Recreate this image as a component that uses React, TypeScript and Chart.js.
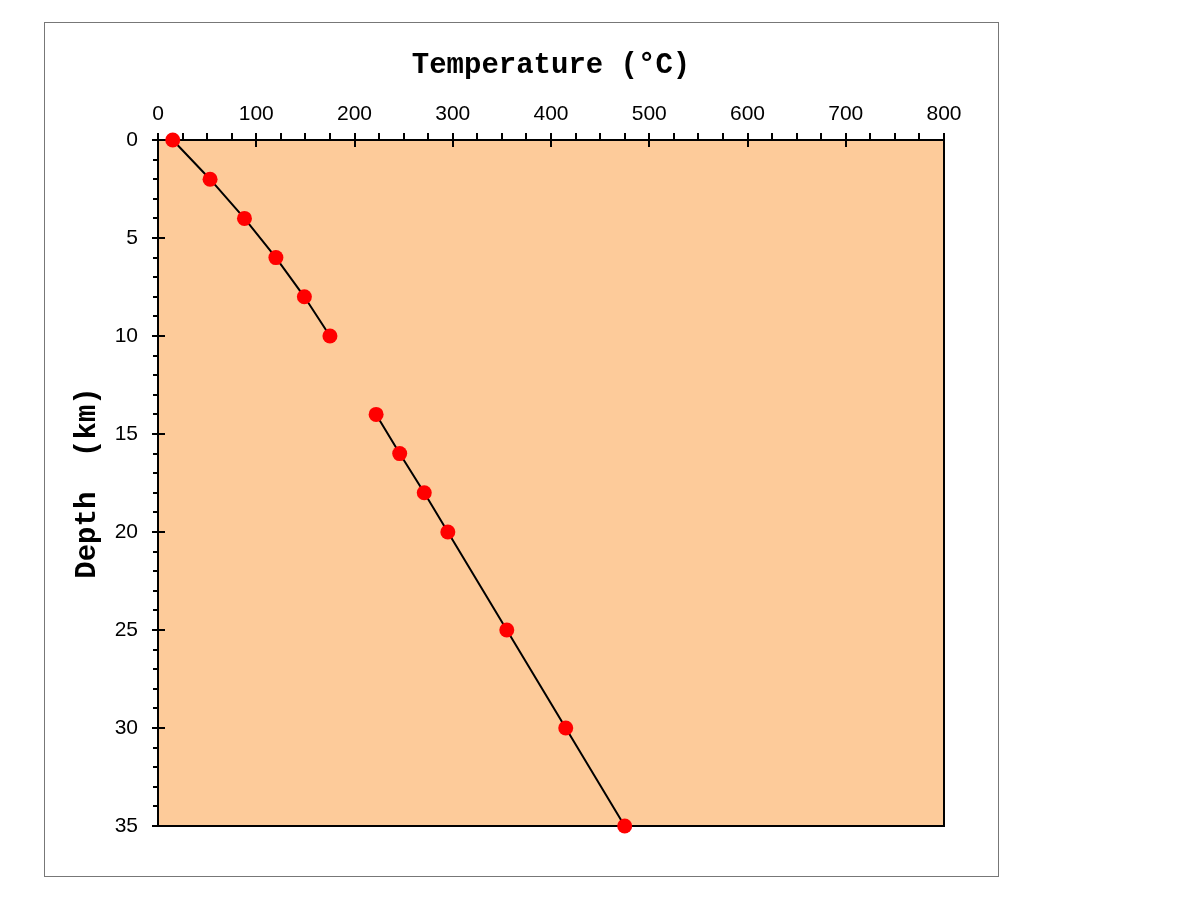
import React, { useEffect, useRef } from "react";
import { Chart, registerables } from "chart.js";

Chart.register(...registerables);

// Upper profile segment
const shallowDepths = [0, 2, 4, 6, 8, 10];
const shallowTemps = [15, 53, 88, 120, 149, 175];
// Lower profile segment
const deepDepths = [14, 16, 18, 20, 25, 30, 35];
const deepTemps = [222, 246, 271, 295, 355, 415, 475];

const tempTicks = [0, 100, 200, 300, 400, 500, 600, 700, 800];
const depthTicks = [0, 5, 10, 15, 20, 25, 30, 35];

const xTitle = "Temperature (°C)";
const yTitle = "Depth  (km)";

const PEACH = "#FDCB9A";
const MONO = "'Liberation Mono', 'Courier New', monospace";
const SANS = "'Liberation Sans', Arial, Helvetica, sans-serif";

const framePlugin = {
  id: "frameAndTicks",
  beforeDatasetsDraw(chart: any) {
    const { ctx, chartArea, scales } = chart;
    const { left, top, right, bottom } = chartArea;
    ctx.save();
    ctx.fillStyle = PEACH;
    ctx.fillRect(left, top, right - left, bottom - top);
    ctx.strokeStyle = "#000";
    ctx.lineWidth = 2;
    ctx.strokeRect(left, top, right - left, bottom - top);
    const xs = scales.x;
    const ys = scales.y;
    ctx.beginPath();
    for (let v = xs.min; v <= xs.max + 1e-9; v += 25) {
      const px = Math.round(xs.getPixelForValue(v));
      const major = Math.abs(v % 100) < 1e-9;
      ctx.moveTo(px, top - 7);
      ctx.lineTo(px, major ? top + 7 : top);
    }
    for (let d = ys.min; d <= ys.max + 1e-9; d += 1) {
      const py = Math.round(ys.getPixelForValue(d));
      const major = Math.abs(d % 5) < 1e-9;
      ctx.moveTo(major ? left - 6 : left - 5, py);
      ctx.lineTo(major ? left + 7 : left, py);
    }
    ctx.stroke();
    ctx.restore();
  },
};

export default function App() {
  const canvasRef = useRef<HTMLCanvasElement | null>(null);

  useEffect(() => {
    const canvas = canvasRef.current;
    if (!canvas) return;
    const toPoints = (xs: number[], ys: number[]) =>
      xs.map((x, i) => ({ x, y: ys[i] }));
    const dsStyle = {
      showLine: true,
      borderColor: "#000",
      borderWidth: 2,
      pointRadius: 7.5,
      pointHoverRadius: 7.5,
      pointBackgroundColor: "#FF0000",
      pointBorderColor: "#FF0000",
      pointBorderWidth: 0,
      clip: false as any,
    };
    const chart = new Chart(canvas, {
      type: "scatter",
      data: {
        datasets: [
          { label: "upper", data: toPoints(shallowTemps, shallowDepths), ...dsStyle },
          { label: "lower", data: toPoints(deepTemps, deepDepths), ...dsStyle },
        ],
      },
      options: {
        animation: false,
        responsive: false,
        events: [],
        layout: { padding: { left: 44, top: 22, right: 256, bottom: 85 } },
        plugins: {
          legend: { display: false },
          tooltip: { enabled: false },
        },
        scales: {
          x: {
            type: "linear",
            position: "top",
            min: 0,
            max: 800,
            afterFit: (s: any) => {
              s.height = 118;
            },
            afterBuildTicks: (s: any) => {
              s.ticks = tempTicks.map((v) => ({ value: v }));
            },
            grid: { display: false, drawTicks: false },
            border: { display: false },
            ticks: {
              padding: 13,
              color: "#000",
              font: { family: SANS, size: 21 },
              maxRotation: 0,
            },
            title: {
              display: true,
              text: xTitle,
              color: "#000",
              font: { family: MONO, size: 29, weight: "bold" },
              padding: { top: 26, bottom: 0 },
            },
          },
          y: {
            type: "linear",
            reverse: true,
            min: 0,
            max: 35,
            afterFit: (s: any) => {
              s.width = 114;
            },
            afterBuildTicks: (s: any) => {
              s.ticks = depthTicks.map((v) => ({ value: v }));
            },
            grid: { display: false, drawTicks: false },
            border: { display: false },
            ticks: {
              padding: 20,
              color: "#000",
              font: { family: SANS, size: 21 },
            },
            title: {
              display: true,
              text: yTitle,
              color: "#000",
              font: { family: MONO, size: 29, weight: "bold" },
              padding: { top: 26, bottom: 0 },
            },
          },
        },
      },
      plugins: [framePlugin],
    });
    return () => chart.destroy();
  }, []);

  return (
    <div
      style={{
        position: "absolute",
        left: 0,
        top: 0,
        width: 1200,
        height: 911,
        background: "#fff",
      }}
    >
      <div
        style={{
          position: "absolute",
          left: 44,
          top: 22,
          width: 953,
          height: 853,
          border: "1px solid #777",
        }}
      />
      <canvas
        ref={canvasRef}
        width={1200}
        height={911}
        style={{ position: "absolute", left: 0, top: 0, width: 1200, height: 911 }}
      />
    </div>
  );
}
